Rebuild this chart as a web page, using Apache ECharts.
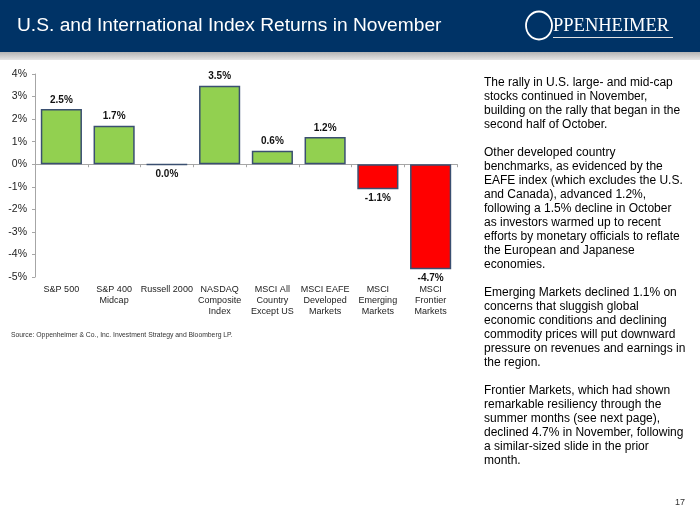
<!DOCTYPE html>
<html>
<head>
<meta charset="utf-8">
<script src="https://cdn.jsdelivr.net/npm/echarts@6/dist/echarts.min.js"></script>
<style>
html,body{margin:0;padding:0;background:#fff;}
#chart{width:700px;height:525px;}
</style>
</head>
<body>
<div id="chart"></div>
<script>
var categories = ['S&P 500', 'S&P 400\nMidcap', 'Russell 2000', 'NASDAQ\nComposite\nIndex', 'MSCI All\nCountry\nExcept US', 'MSCI EAFE\nDeveloped\nMarkets', 'MSCI\nEmerging\nMarkets', 'MSCI\nFrontier\nMarkets'];
var returns = [2.45, 1.71, -0.02, 3.48, 0.60, 1.21, -1.11, -4.66];
var titleText = 'U.S. and International Index Returns in November';
var sourceText = 'Source: Oppenheimer & Co., Inc. Investment Strategy and Bloomberg LP.';
var paragraphs = [
  'The rally in U.S. large- and mid-cap\nstocks continued in November,\nbuilding on the rally that began in the\nsecond half of October.',
  'Other developed country\nbenchmarks, as evidenced by the\nEAFE index (which excludes the U.S.\nand Canada), advanced 1.2%,\nfollowing a 1.5% decline in October\nas investors warmed up to recent\nefforts by monetary officials to reflate\nthe European and Japanese\neconomies.',
  'Emerging Markets declined 1.1% on\nconcerns that sluggish global\neconomic conditions and declining\ncommodity prices will put downward\npressure on revenues and earnings in\nthe region.',
  'Frontier Markets, which had shown\nremarkable resiliency through the\nsummer months (see next page),\ndeclined 4.7% in November, following\na similar-sized slide in the prior\nmonth.'
];
var pageNumber = '17';

var chart = echarts.init(document.getElementById('chart'));
var fmt = function (v) { return (Math.round(v * 10) / 10).toFixed(1) + '%'; };

chart.setOption({
  backgroundColor: '#ffffff',
  animation: false,
  grid: { left: 35, top: 74, right: 243, bottom: 248, containLabel: false },
  xAxis: [
    {
      type: 'category', data: categories, position: 'bottom',
      axisLine: { show: false, onZero: false }, axisTick: { show: false },
      axisLabel: { interval: 0, margin: 7, fontSize: 9, lineHeight: 11, color: '#222',
        fontFamily: 'Arial, "Liberation Sans", sans-serif' }
    },
    {
      type: 'category', data: categories, position: 'bottom',
      axisLine: { show: true, onZero: true, lineStyle: { color: '#A6A6A6', width: 1 } },
      axisTick: { show: true, inside: false, length: 3, interval: 0, lineStyle: { color: '#A6A6A6' } },
      axisLabel: { show: false }
    }
  ],
  yAxis: {
    type: 'value', min: -5, max: 4, interval: 1,
    axisLine: { show: true, lineStyle: { color: '#A6A6A6' } },
    axisTick: { show: true, length: 3, lineStyle: { color: '#A6A6A6' } },
    splitLine: { show: false },
    axisLabel: { formatter: '{value}%', fontSize: 10.5, color: '#222', margin: 8, fontFamily: 'Arial, "Liberation Sans", sans-serif' }
  },
  series: [{
    type: 'bar',
    xAxisIndex: 0,
    data: returns.map(function (v) {
      return {
        value: v,
        itemStyle: { color: v < -0.05 ? '#FF0000' : '#92D050' },
        label: { position: v < 0 ? 'bottom' : 'top' }
      };
    }),
    barCategoryGap: '22%',
    itemStyle: { borderColor: '#3A4F70', borderWidth: 1.5 },
    label: {
      show: true, distance: 4, fontSize: 10, fontWeight: 'bold', color: '#111',
      fontFamily: 'Arial, "Liberation Sans", sans-serif',
      formatter: function (p) { return fmt(p.value); }
    }
  }],
  graphic: [
    { type: 'rect', shape: { x: 0, y: 0, width: 700, height: 52 }, style: { fill: '#003366' }, silent: true },
    { type: 'rect', shape: { x: 0, y: 52, width: 700, height: 8 },
      style: { fill: new echarts.graphic.LinearGradient(0, 0, 0, 1, [{ offset: 0, color: '#B4B4B4' }, { offset: 1, color: '#E6E6E6' }]) }, silent: true },
    { type: 'text', left: 17, top: 16,
      style: { text: titleText, fill: '#ffffff', font: '19.2px Arial, "Liberation Sans", sans-serif' } },
    { type: 'ellipse', shape: { cx: 539, cy: 25.5, rx: 13, ry: 14 },
      style: { fill: 'none', stroke: '#ffffff', lineWidth: 1.8 } },
    { type: 'text', left: 553, top: 17,
      style: { text: 'PPENHEIMER', fill: '#ffffff', font: '18.5px "Liberation Serif", "DejaVu Serif", serif' } },
    { type: 'line', shape: { x1: 553, y1: 37.5, x2: 673, y2: 37.5 }, style: { stroke: '#E0E0E0', lineWidth: 1 } },
    { type: 'text', left: 11, top: 332,
      style: { text: sourceText, fill: '#333', font: '6.8px Arial, "Liberation Sans", sans-serif' } },
    { type: 'text', left: 484, top: 75.5,
      style: { text: paragraphs.join('\n\n'), fill: '#000', font: '12px Arial, "Liberation Sans", sans-serif', lineHeight: 14 } },
    { type: 'text', left: 675, top: 498,
      style: { text: pageNumber, fill: '#333', font: '9px Arial, "Liberation Sans", sans-serif' } }
  ]
});
</script>
</body>
</html>
